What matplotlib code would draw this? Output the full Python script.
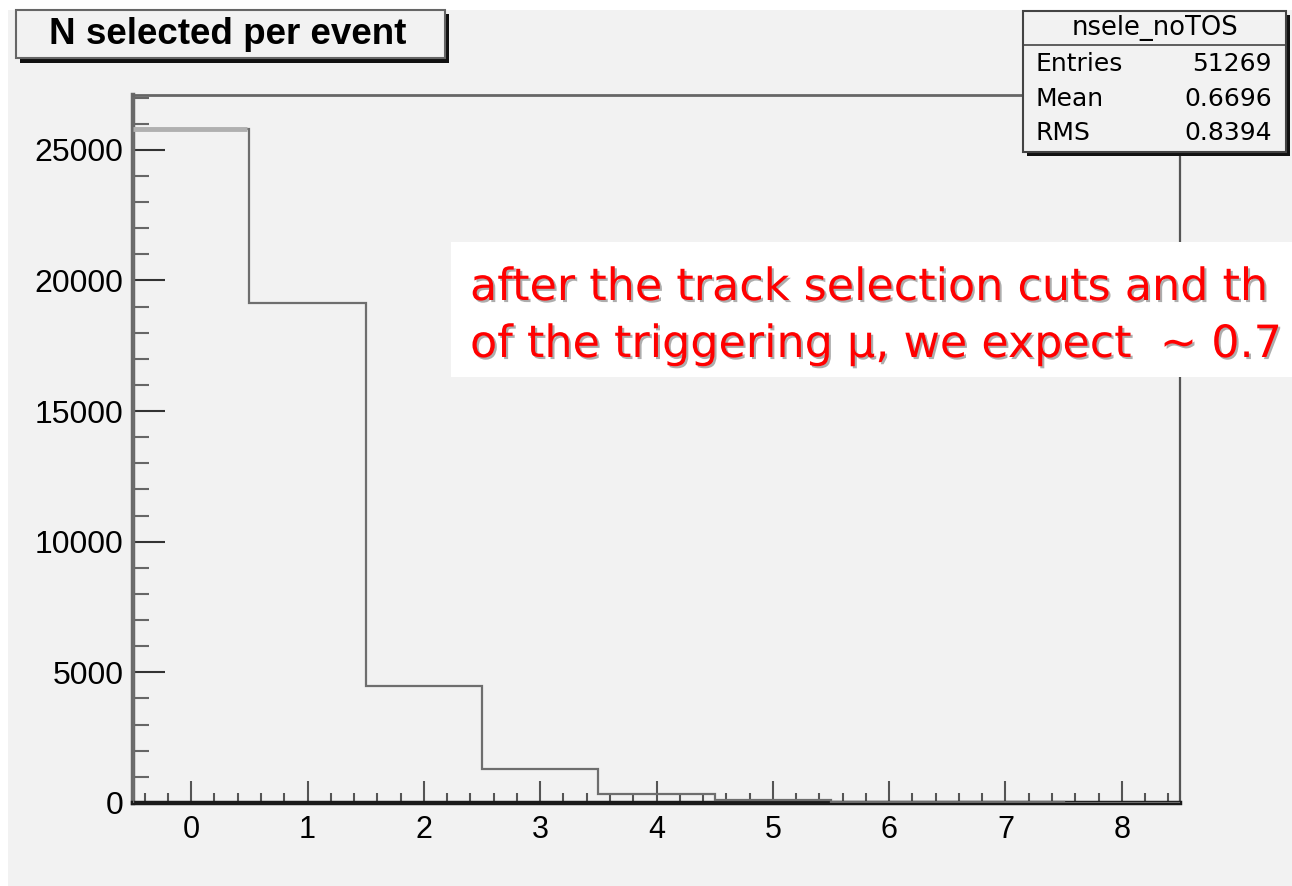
import numpy as np
import matplotlib
matplotlib.use("Agg")
from matplotlib import pyplot as plt
from matplotlib.patches import Rectangle
from matplotlib.lines import Line2D
import matplotlib.patheffects as pe

# histogram contents
edges = np.arange(-0.5, 9.0, 1.0)
counts = [25800, 19150, 4470, 1300, 340, 130, 50, 20, 9]

title = "N selected per event"
stat_name = "nsele_noTOS"
stat_labels = ["Entries", "Mean", "RMS"]
stat_values = ["51269", "0.6696", "0.8394"]
note_lines = ["after the track selection cuts and th",
              "of the triggering \u03bc, we expect  ~ 0.7"]

W, H = 1292, 886
BG = '#f2f2f2'


def fx(x):
    return x / W


def fy(y):
    return 1 - y / H


def box(x0, y0, x1, y1, **kw):
    # rectangle in pixel coords (y from top)
    r = Rectangle((fx(x0), fy(y1)), fx(x1) - fx(x0), fy(y0) - fy(y1),
                  transform=fig.transFigure, **kw)
    fig.patches.append(r)
    return r


fig = plt.figure(figsize=(W / 100, H / 100), dpi=100, facecolor='white')
plt.rcParams['font.family'] = ['Liberation Sans', 'DejaVu Sans']

# ROOT canvas
box(8, 10, W, H, facecolor=BG, edgecolor='none', zorder=-10)

ax = fig.add_axes([fx(133), fy(803), fx(1180) - fx(133), fy(95) - fy(803)])
ax.set_facecolor(BG)
ax.stairs(counts, edges, color='#6e6e6e', lw=1.6, zorder=3)
# first bin top looks lighter in the original
ax.plot([edges[0], edges[1] - 0.02], [counts[0], counts[0]], color='#b0b0b0',
        lw=3.5, zorder=4, solid_capstyle='butt')

ax.set_xlim(-0.5, 8.5)
ax.set_ylim(0, 27100)
ax.set_xticks(np.arange(0, 9, 1))
ax.set_xticks(np.arange(-0.4, 8.5, 0.2), minor=True)
ax.set_yticks(np.arange(0, 25001, 5000))
ax.set_yticks(np.arange(0, 27001, 1000), minor=True)

ax.tick_params(axis='y', which='major', direction='in', length=23, width=1.5,
               color='#333333', labelsize=23, pad=7)
ax.tick_params(axis='y', which='minor', direction='in', length=11.5, width=1.5,
               color='#666666')
ax.tick_params(axis='x', which='major', direction='in', length=16, width=1.5,
               color='#555555', labelsize=22, pad=9)
ax.tick_params(axis='x', which='minor', direction='in', length=7, width=1.5,
               color='#555555')

ax.spines['left'].set_color('#6a6a6a')
ax.spines['left'].set_linewidth(3.2)
ax.spines['bottom'].set_color('#1a1a1a')
ax.spines['bottom'].set_linewidth(3.2)
ax.spines['top'].set_color('#666666')
ax.spines['top'].set_linewidth(2)
ax.spines['right'].set_color('#555555')
ax.spines['right'].set_linewidth(1.6)

# title box with shadow
box(20, 14, 449, 63, facecolor='#111111', edgecolor='none', zorder=5)
box(16, 10, 445, 58, facecolor=BG, edgecolor='#666666', lw=1.5, zorder=6)
fig.text(fx(228), fy(34), title, fontsize=26.5, fontweight='bold',
         ha='center', va='center', zorder=7)

# stats box
box(1027, 15, 1290, 156, facecolor='#111111', edgecolor='none', zorder=5)
box(1023, 11, 1286, 152, facecolor=BG, edgecolor='#444444', lw=1.5, zorder=6)
fig.lines.append(Line2D([fx(1023), fx(1286)], [fy(45), fy(45)],
                        transform=fig.transFigure, color='#444444', lw=1.2,
                        zorder=7))
fig.text(fx(1155), fy(28), stat_name, fontsize=18.5, family='DejaVu Sans',
         ha='center', va='center', zorder=7)
for i, (lab, val) in enumerate(zip(stat_labels, stat_values)):
    yy = fy(64 + i * 34.5)
    fig.text(fx(1035), yy, lab, fontsize=18, family='DejaVu Sans',
             ha='left', va='center', zorder=7)
    fig.text(fx(1272), yy, val, fontsize=18, family='DejaVu Sans',
             ha='right', va='center', zorder=7)

# red annotation pasted on top
box(451, 242, W, 377, facecolor='white', edgecolor='none', zorder=8)
shadow = [pe.SimplePatchShadow(offset=(1.5, -1.5), shadow_rgbFace='#999999',
                               alpha=0.8), pe.Normal()]
for i, line in enumerate(note_lines):
    fig.text(fx(470), fy(300 + i * 57), line, fontsize=32, color='#ff0000',
             family='DejaVu Sans', ha='left', va='baseline', zorder=9,
             path_effects=shadow)

fig.savefig("out.png", dpi=100, facecolor=fig.get_facecolor())
